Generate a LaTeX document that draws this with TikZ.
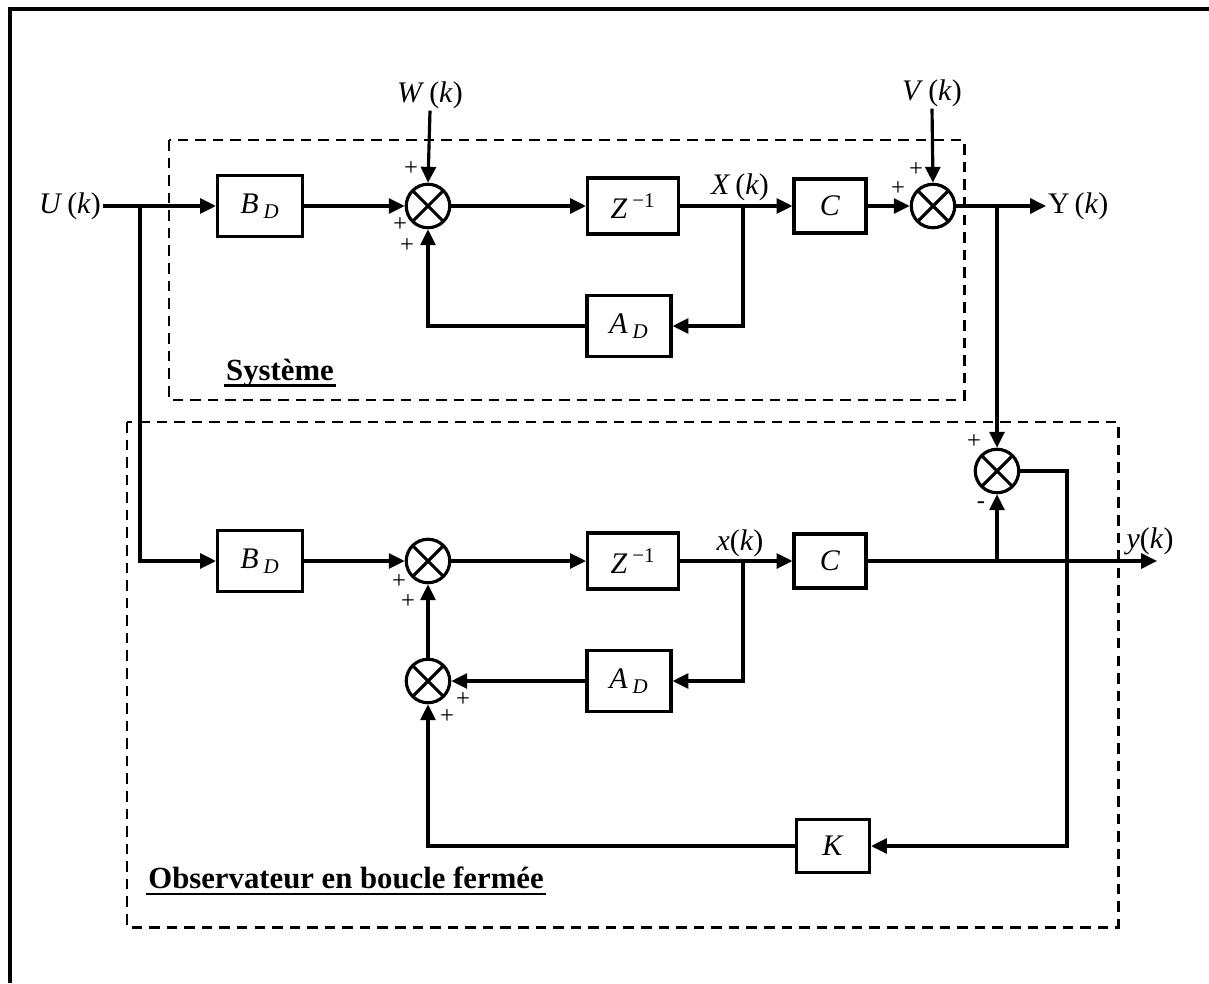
\documentclass[tikz,border=0pt]{standalone}
\usepackage{fontspec}
\setmainfont{Liberation Serif}
\usetikzlibrary{arrows.meta,positioning,calc}

\begin{document}
\begin{tikzpicture}[
    x=0.02cm,y=-0.02cm,
    font=\fontsize{17}{20}\selectfont,
    blk/.style={draw,line width=1.8pt,inner sep=0pt,
               minimum width=#1},
    blk/.default=1.7cm,
    sum/.style={draw,circle,line width=1.8pt,minimum size=0.87cm,inner sep=0pt,
               path picture={\draw[line width=1.8pt]
                 (path picture bounding box.north west)--(path picture bounding box.south east)
                 (path picture bounding box.north east)--(path picture bounding box.south west);}},
    arr/.style={-{Triangle[length=9pt,width=8.5pt]},line width=1.8pt},
    sig/.style={inner sep=1pt},
    sgn/.style={inner sep=0pt,font=\fontsize{14}{16}\selectfont},
    grp/.style={draw,line width=1.7pt,dash pattern=on 6pt off 4pt},
    ttl/.style={font=\fontsize{17.5}{20}\selectfont\bfseries,inner sep=1pt},
    ul/.style={line width=1.5pt}
  ]
    \useasboundingbox (0,0) rectangle (1209,983);
    \draw[line width=2.3pt] (10,983) -- (10,9) -- (1209,9);
    % groupes
    \draw[grp] (169,140) rectangle (964,400);
    \draw[grp] (127,422) rectangle (1118,927);
    \node[ttl] (sys) at (280,373) {Système};
    \node[ttl] (obs) at (346,878) {Observateur en boucle fermée};
    \draw[ul] ([yshift=-3pt]sys.base west) -- ([yshift=-3pt]sys.base east);
    \draw[ul] ([yshift=-3pt]obs.base west) -- ([yshift=-3pt]obs.base east);
    % systeme
    \node[sig] (uk)  at (70,206)  {\textit{U}\,(\textit{k})};
    \node[blk,minimum height=1.22cm] (bd1) at (260,206) {\textit{B}\,\textsubscript{\textit{D}}};
    \node[sum] (s1)  at (428,206) {};
    \node[sig] (wk)  at (430,95)  {\textit{W}\,(\textit{k})};
    \node[blk=1.82cm,minimum height=1.12cm] (z1) at (633,206) {\textit{Z}\,\textsuperscript{−1}};
    \node[sig] (xk)  at (740,187) {\textit{X}\,(\textit{k})};
    \node[blk=1.44cm,minimum height=1.08cm] (c1) at (830,206) {\textit{C}};
    \node[sum] (s2)  at (933,206) {};
    \node[sig] (vk)  at (932,93)  {\textit{V}\,(\textit{k})};
    \node[sig,anchor=west] (yk) at (1046,206) {Y\,(\textit{k})};
    \node[blk=1.68cm,minimum height=1.22cm] (ad1) at (629,326) {\textit{A}\,\textsubscript{\textit{D}}};
    \coordinate (ub) at (140,206);
    \coordinate (xb1) at (743,206);
    \coordinate (yb) at (997,206);
    \node[sgn] at (411,169) {+};
    \node[sgn] at (400,225) {+};
    \node[sgn] at (407,246) {+};
    \node[sgn] at (916,170) {+};
    \node[sgn] at (898,189) {+};
    % observateur
    \node[sum] (s3)  at (997,471) {};
    \node[blk,minimum height=1.22cm] (bd2) at (260,561) {\textit{B}\,\textsubscript{\textit{D}}};
    \node[sum] (s4)  at (428,561) {};
    \node[blk=1.82cm,minimum height=1.12cm] (z2) at (633,561) {\textit{Z}\,\textsuperscript{−1}};
    \node[sig] (xk2) at (740,543) {\textit{x}(\textit{k})};
    \node[blk=1.44cm,minimum height=1.08cm] (c2) at (830,561) {\textit{C}};
    \node[sig] (yk2) at (1150,541) {\textit{y}(\textit{k})};
    \coordinate (yend) at (1157,561);
    \node[blk=1.68cm,minimum height=1.22cm] (ad2) at (629,681) {\textit{A}\,\textsubscript{\textit{D}}};
    \node[sum] (s5)  at (428,681) {};
    \node[blk=1.46cm,minimum height=1.06cm] (kb) at (833,846) {\textit{K}};
    \coordinate (xb2) at (743,561);
    \coordinate (yb2) at (997,561);
    \coordinate (kr) at (1067,471);
    \node[sgn] at (974,442) {+};
    \node[sgn] at (981,505) {-};
    \node[sgn] at (399,582) {+};
    \node[sgn] at (408,602) {+};
    \node[sgn] at (463,700) {+};
    \node[sgn] at (447,717) {+};
    % liaisons systeme
    \draw[arr] (uk.east) -- (bd1.west);
    \draw[arr] (bd1.east) -- (s1.west);
    \draw[arr] (wk.south) -- (s1.north);
    \draw[arr] (s1.east) -- (z1.west);
    \draw[arr] (z1.east) -- (c1.west);
    \draw[arr] (xb1) |- (ad1.east);
    \draw[arr] (ad1.west) -| (s1.south);
    \draw[arr] (c1.east) -- (s2.west);
    \draw[arr] (vk.south) -- (s2.north);
    \draw[arr] (s2.east) -- (yk.west);
    % liaisons observateur
    \draw[arr] (ub) |- (bd2.west);
    \draw[arr] (yb) -- (s3.north);
    \draw[arr] (bd2.east) -- (s4.west);
    \draw[arr] (s4.east) -- (z2.west);
    \draw[arr] (z2.east) -- (c2.west);
    \draw[arr] (xb2) |- (ad2.east);
    \draw[arr] (ad2.west) -- (s5.east);
    \draw[arr] (s5.north) -- (s4.south);
    \draw[arr] (c2.east) -- (yend);
    \draw[arr] (yb2) -- (s3.south);
    \draw[arr] (s3.east) -- (kr) |- (kb.east);
    \draw[arr] (kb.west) -| (s5.south);
\end{tikzpicture}
\end{document}
